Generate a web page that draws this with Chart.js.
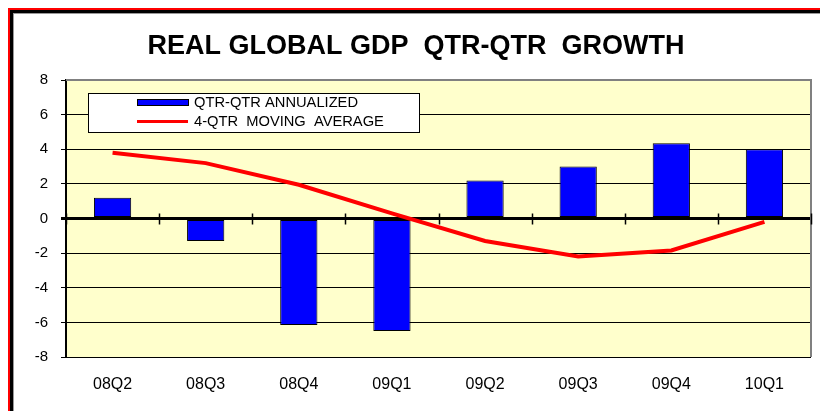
<!DOCTYPE html>
<html>
<head>
<meta charset="utf-8">
<script src="https://cdn.jsdelivr.net/npm/chart.js@4.4.1/dist/chart.umd.min.js"></script>
<style>
  html, body { margin: 0; padding: 0; background: #fff; }
  canvas { display: block; }
</style>
</head>
<body>
<canvas id="gdpChart" width="820" height="411"></canvas>
<script>
const chartTitle = "REAL GLOBAL GDP  QTR-QTR  GROWTH";
const quarters = ["08Q2", "08Q3", "08Q4", "09Q1", "09Q2", "09Q3", "09Q4", "10Q1"];
const annualized = [1.2, -1.3, -6.15, -6.5, 2.2, 3.0, 4.35, 4.0];
const movingAvg = [3.8, 3.2, 1.95, 0.3, -1.3, -2.2, -1.85, -0.2];
const yTicks = [-8, -6, -4, -2, 0, 2, 4, 6, 8];

const FONT = "'Liberation Sans', Arial, sans-serif";

// frame, title, plot background and the tick marks on the zero line
const decor = {
  id: "decor",
  beforeDraw(chart) {
    const ctx = chart.ctx;
    const a = chart.chartArea;
    ctx.save();
    ctx.fillStyle = "#fff";
    ctx.fillRect(0, 0, chart.width, chart.height);
    // outer frame: red, black, grey
    ctx.fillStyle = "#ff0000";
    ctx.fillRect(8, 8, chart.width, 2);
    ctx.fillRect(8, 8, 2, chart.height);
    ctx.fillStyle = "#000";
    ctx.fillRect(10, 10, chart.width, 3);
    ctx.fillRect(10, 10, 3, chart.height);
    ctx.fillStyle = "#999";
    ctx.fillRect(13, 13, chart.width, 1);
    ctx.fillRect(13, 13, 1, chart.height);
    // title
    ctx.fillStyle = "#000";
    ctx.font = "bold 27px " + FONT;
    ctx.textAlign = "center";
    ctx.textBaseline = "middle";
    ctx.fillText(chartTitle, 416, 47);
    // plot area
    ctx.fillStyle = "#ffffcc";
    ctx.fillRect(a.left, a.top, a.right - a.left, a.bottom - a.top);
    ctx.restore();
  },
  afterDatasetsDraw(chart) {
    const ctx = chart.ctx;
    const a = chart.chartArea;
    const x = chart.scales.x;
    const y0 = chart.scales.y.getPixelForValue(0);
    ctx.save();
    ctx.strokeStyle = "#808080";
    ctx.lineWidth = 2;
    ctx.beginPath();
    ctx.moveTo(a.left, a.top);
    ctx.lineTo(a.right, a.top);
    ctx.lineTo(a.right, a.bottom);
    ctx.stroke();
    ctx.strokeStyle = "#000";
    ctx.lineWidth = 1.5;
    const step = x.getPixelForValue(1) - x.getPixelForValue(0);
    for (let i = 0; i <= quarters.length; i++) {
      const px = Math.round(x.getPixelForValue(i) - step / 2) + 0.5;
      ctx.beginPath();
      ctx.moveTo(px, y0 - 5);
      ctx.lineTo(px, y0 + 6);
      ctx.stroke();
    }
    ctx.restore();
  }
};

// boxed legend inside the plot
const boxLegend = {
  id: "boxLegend",
  afterDraw(chart) {
    const ctx = chart.ctx;
    const bx = 88, by = 93, bw = 331, bh = 39;
    ctx.save();
    ctx.fillStyle = "#fff";
    ctx.fillRect(bx, by, bw, bh);
    ctx.strokeStyle = "#000";
    ctx.lineWidth = 1;
    ctx.strokeRect(bx + 0.5, by + 0.5, bw, bh);
    const bar = chart.data.datasets[1];
    const line = chart.data.datasets[0];
    ctx.fillStyle = bar.backgroundColor;
    ctx.fillRect(137, 99, 51, 6);
    ctx.strokeStyle = "#000";
    ctx.strokeRect(137.5, 99.5, 51, 6);
    ctx.strokeStyle = line.borderColor;
    ctx.lineWidth = 3;
    ctx.beginPath();
    ctx.moveTo(137, 121.5);
    ctx.lineTo(188, 121.5);
    ctx.stroke();
    ctx.fillStyle = "#000";
    ctx.font = "14.7px " + FONT;
    ctx.textBaseline = "middle";
    ctx.fillText(bar.label, 194, 103);
    ctx.fillText(line.label, 194, 122);
    ctx.restore();
  }
};

new Chart(document.getElementById("gdpChart"), {
  type: "bar",
  data: {
    labels: quarters,
    datasets: [{
      type: "line",
      label: "4-QTR  MOVING  AVERAGE",
      data: movingAvg,
      borderColor: "#ff0000",
      borderWidth: 4,
      pointRadius: 0,
      tension: 0,
      fill: false,
      order: 0
    }, {
      type: "bar",
      label: "QTR-QTR ANNUALIZED",
      data: annualized,
      backgroundColor: "#0000ff",
      borderColor: "#000",
      borderWidth: 1,
      borderSkipped: false,
      categoryPercentage: 1,
      barPercentage: 0.4,
      order: 1
    }]
  },
  options: {
    responsive: false,
    animation: false,
    layout: { padding: { left: 0, right: 9, top: 80, bottom: 0 } },
    plugins: {
      legend: { display: false },
      tooltip: { enabled: false },
      title: { display: false }
    },
    scales: {
      x: {
        grid: { display: false, drawTicks: false },
        border: { display: false },
        ticks: {
          color: "#000",
          font: { family: FONT, size: 16 },
          padding: 18,
          maxRotation: 0
        },
        afterFit(scale) { scale.height = 54; }
      },
      y: {
        min: -8,
        max: 8,
        afterBuildTicks(scale) {
          scale.ticks = yTicks.map(v => ({ value: v }));
        },
        grid: {
          color: ctx => ctx.tick && ctx.tick.value === 8 ? "#808080" : "#000",
          lineWidth: ctx => ctx.tick && ctx.tick.value === 0 ? 3 : 1,
          tickColor: "#000",
          tickLength: 5
        },
        border: { color: "#000", width: 2 },
        ticks: {
          color: "#000",
          font: { family: FONT, size: 15 },
          padding: 13
        },
        afterFit(scale) { scale.width = 66; }
      }
    }
  },
  plugins: [decor, boxLegend]
});
</script>
</body>
</html>
